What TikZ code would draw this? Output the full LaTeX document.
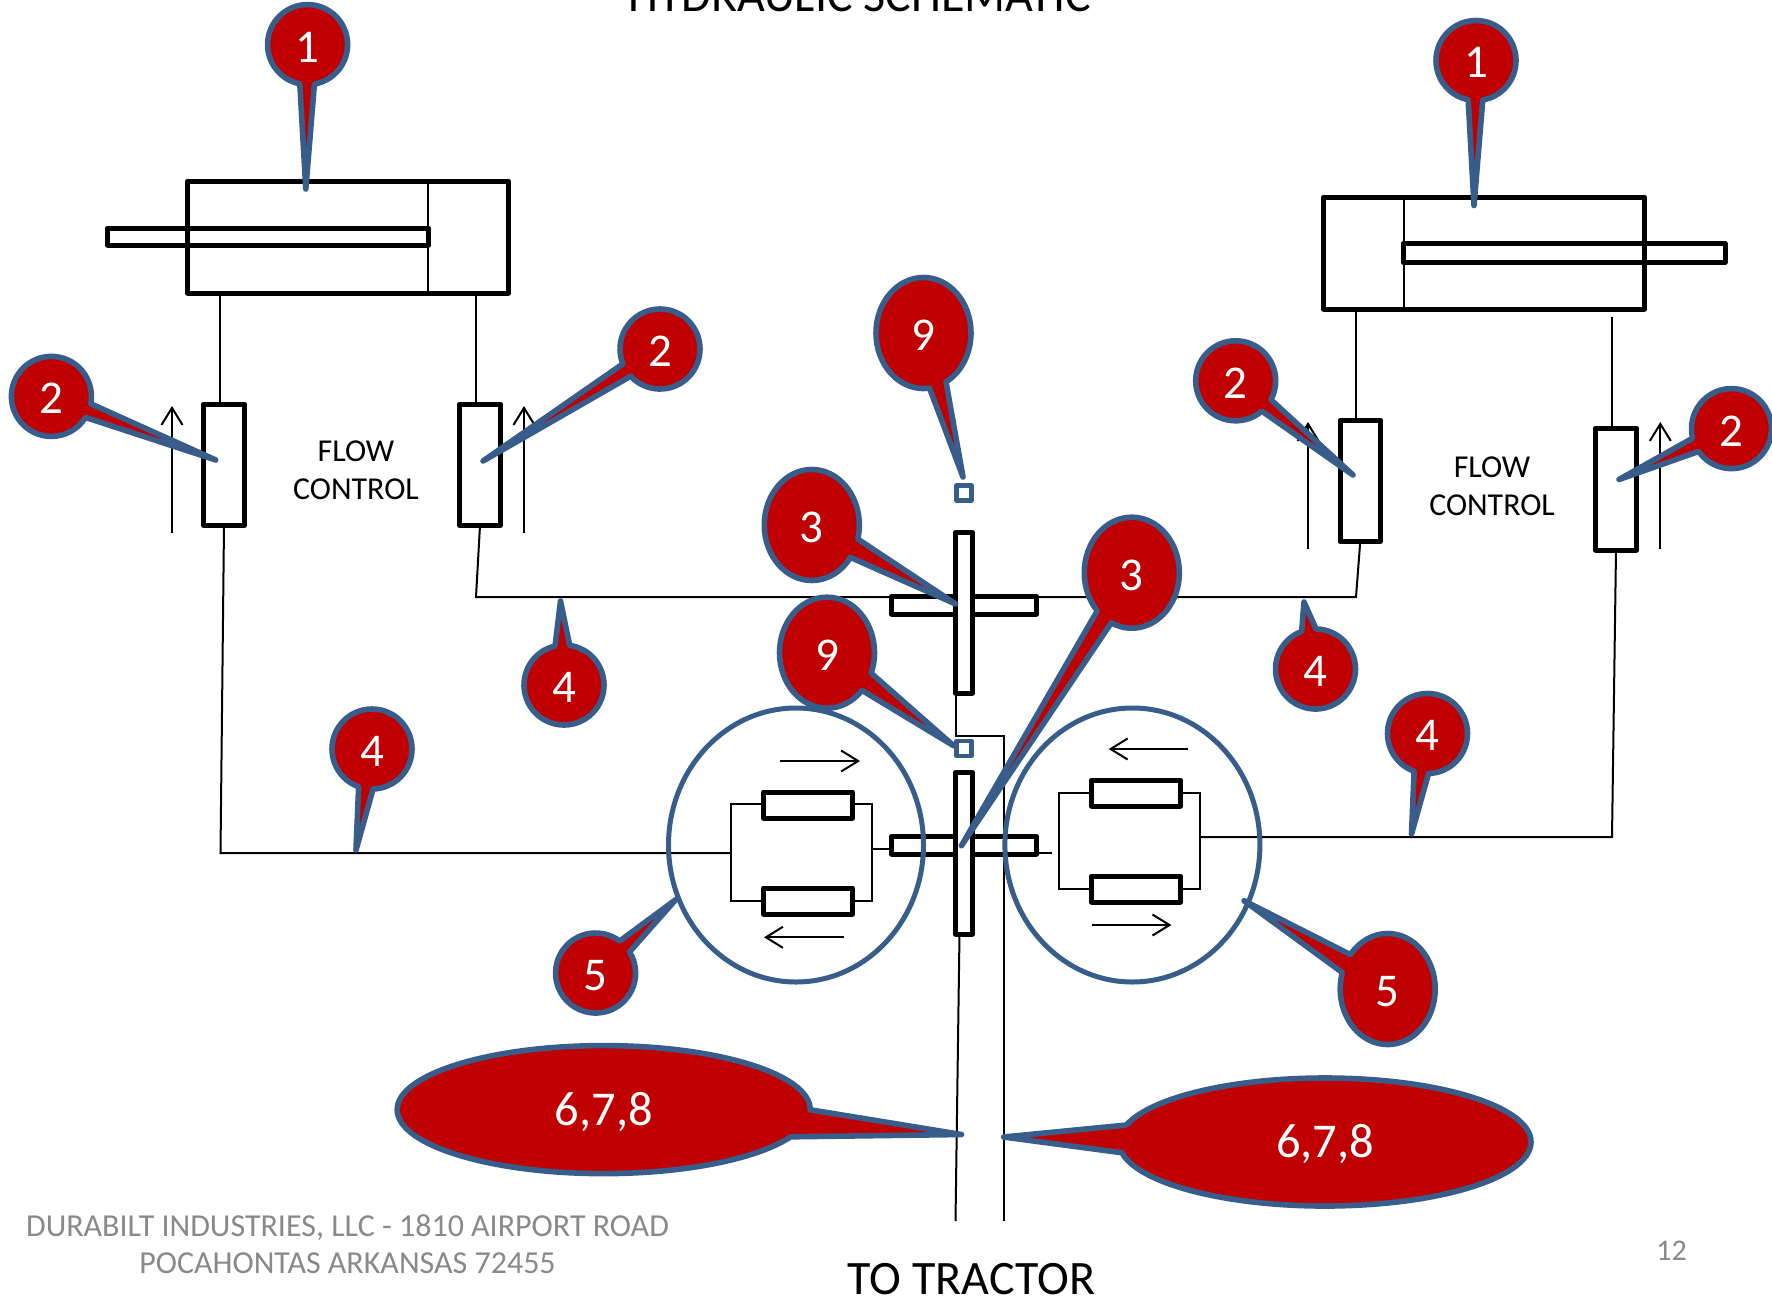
\documentclass[tikz,border=0pt]{standalone}
\usepackage{fontspec}
\setmainfont{Carlito}
\usetikzlibrary{shapes.callouts,shapes.geometric,arrows.meta}
\definecolor{calred}{RGB}{192,0,0}
\definecolor{calblue}{RGB}{56,93,138}
\definecolor{footgray}{RGB}{137,137,137}
\tikzset{
  heavybox/.style={draw=black,line width=5pt,line join=round,inner sep=0pt,outer sep=0pt,rectangle},
  openbox/.style={heavybox},
  solidbox/.style={heavybox,fill=white},
  portbox/.style={draw=calblue,line width=4.6pt,line join=round,inner sep=0pt,outer sep=0pt,rectangle,fill=white},
  pipe/.style={draw=black,line width=2pt},
  flow/.style={draw=black,line width=2pt,-{Straight Barb[length=17pt,width=21pt,line width=2pt]}},
  ring/.style={draw=calblue,line width=5pt,shape=ellipse,inner sep=0pt,outer sep=0pt},
  balloon/.style={ellipse callout,draw=calblue,fill=calred,line width=5.6pt,line join=round,text=white,
     inner sep=0pt,outer sep=0pt,font=\fontsize{47}{50}\selectfont,callout pointer arc=21},
  small/.style={balloon,minimum width=80pt,minimum height=80pt},
  tall/.style={balloon,minimum width=95pt,minimum height=111pt},
  wide/.style={balloon,minimum width=413pt,minimum height=128pt,callout pointer arc=25,font=\fontsize{48.5}{50}\selectfont},
  flowtxt/.style={align=center,font=\fontsize{31.9}{38}\selectfont,inner sep=0pt},
  foot/.style={align=center,text=footgray,font=\fontsize{32}{37}\selectfont,inner sep=0pt},
  bigtxt/.style={anchor=base,inner sep=0pt,font=\fontsize{48}{52}\selectfont},
}
\newcommand\bx[6]{%
  \pgfmathsetmacro\cxx{(#3+#5)/2}\pgfmathsetmacro\cyy{(#4+#6)/2}%
  \pgfmathsetmacro\wdd{abs(#5-#3)}\pgfmathsetmacro\htt{abs(#6-#4)}%
  \node[#1,minimum width=\wdd pt,minimum height=\htt pt] (#2) at (\cxx,\cyy) {};}
\newcommand\dropped[1]{\raisebox{-2.3pt}[\height][\depth]{#1}}
\begin{document}
\begin{tikzpicture}[x=1pt,y=-1pt]
\useasboundingbox (0,0) rectangle (1772,1298);
% titles and free text
\node[bigtxt] (title) at (859.5,11.3) {HYDRAULIC SCHEMATIC};
\node[bigtxt] (tractor) at (971.5,1294.5) {TO TRACTOR};
\node[flowtxt] (flowL) at (356,470) {FLOW\\CONTROL};
\node[flowtxt] (flowR) at (1492,486) {FLOW\\CONTROL};
\node[foot] (footer) at (347.5,1244.5) {DURABILT INDUSTRIES, LLC - 1810 AIRPORT ROAD\\POCAHONTAS ARKANSAS 72455};
\node[foot,font=\fontsize{30}{34}\selectfont] (page) at (1671.5,1251) {12};
% cylinders
\bx{openbox}{cylL}{187.5}{181}{508.5}{293}
\bx{openbox}{rodL}{107.5}{228}{428.5}{245}
\bx{openbox}{cylR}{1323.5}{197}{1644.5}{309}
\bx{openbox}{rodR}{1403}{243.5}{1725}{262}
\coordinate (pistonLt) at (428,181); \coordinate (pistonLb) at (428,293);
\coordinate (pistonRt) at (1404,197); \coordinate (pistonRb) at (1404,309);
\draw[pipe] (pistonLt) -- (pistonLb);
\draw[pipe] (pistonRt) -- (pistonRb);
% flow-control valves
\bx{solidbox}{vL1}{203.5}{404}{244.5}{525.5}
\bx{solidbox}{vL2}{459.5}{404}{500.5}{525.5}
\bx{solidbox}{vR1}{1340}{420}{1380.5}{541.5}
\bx{solidbox}{vR2}{1595.5}{428}{1636.5}{550}
% cylinder pipes
\coordinate (pL1) at (220,293); \coordinate (pL2) at (475.7,293);
\coordinate (pR1) at (1356,309); \coordinate (pR2) at (1612,317);
\draw[pipe] (pL1) -- (pL1 |- vL1.north);
\draw[pipe] (pL2) -- (pL2 |- vL2.north);
\draw[pipe] (pR1) -- (pR1 |- vR1.north);
\draw[pipe] (pR2) -- (pR2 |- vR2.north);
% flow arrows by the valves
\coordinate (a1s) at (172,533); \coordinate (a1e) at (172,406);
\coordinate (a2s) at (524,533); \coordinate (a2e) at (524,406);
\coordinate (a3s) at (1308,549); \coordinate (a3e) at (1308,422);
\coordinate (a4s) at (1660.3,549); \coordinate (a4e) at (1660.3,422);
\draw[flow] (a1s) -- (a1e);
\draw[flow] (a2s) -- (a2e);
\draw[flow] (a3s) -- (a3e);
\draw[flow] (a4s) -- (a4e);
% long pipes
\coordinate (jTopL) at (476,597); \coordinate (jTopR) at (1356,597);
\coordinate (jLowL) at (220.5,853); \coordinate (jLowLe) at (731,853);
\coordinate (jLowR) at (1612,837); \coordinate (jLowRe) at (1200,837);
\draw[pipe] (vL2.south) -- (jTopL) -- (jTopR) -- (vR1.south);
\draw[pipe] (vL1.south) -- (jLowL) -- (jLowLe);
\draw[pipe] (vR2.south) -- (jLowR) -- (jLowRe);
% motor groups
\coordinate (gLtl) at (731,804.3); \coordinate (gLbl) at (731,901);
\coordinate (gLtr) at (872,804.3); \coordinate (gLbr) at (872,901);
\draw[pipe] (gLtl) rectangle (gLbr);
\coordinate (gRtl) at (1059,792.7); \coordinate (gRbr) at (1200,888.7);
\draw[pipe] (gRtl) rectangle (gRbr);
\bx{solidbox}{mL1}{763.5}{792}{852.5}{818}
\bx{solidbox}{mL2}{763.5}{888}{852.5}{914}
\bx{solidbox}{mR1}{1091.5}{780}{1180.5}{806}
\bx{solidbox}{mR2}{1091.5}{876}{1180.5}{902}
% tractor lines
\coordinate (tL) at (955.7,693); \coordinate (tLb) at (955.7,735.7);
\coordinate (tRc) at (1003.8,735.7); \coordinate (tRe) at (1003.8,1221);
\coordinate (tBs) at (959.5,934); \coordinate (tBe) at (955.5,1221);
\draw[pipe] (tL) -- (tLb) -- (tRc) -- (tRe);
\draw[pipe] (tBs) -- (tBe);
% central valves
\coordinate (bL) at (872,849); \coordinate (bLe) at (891,849);
\coordinate (bR) at (1037,852.7); \coordinate (bRe) at (1052,852.7);
\draw[pipe] (bL) -- (bLe);
\draw[pipe] (bR) -- (bRe);
\bx{solidbox}{hBarU}{891.5}{596.5}{1036.5}{614}
\bx{solidbox}{vBarU}{955.5}{532.5}{972.5}{693}
\bx{solidbox}{hBarL}{891.5}{836.5}{1036.5}{854}
\bx{solidbox}{vBarL}{955.5}{772.5}{972.5}{934}
\bx{portbox}{portU}{956.5}{485.5}{971.5}{500.5}
\bx{portbox}{portL}{956.5}{741}{971.5}{756}
% group arrows
\coordinate (a5s) at (780,761); \coordinate (a5e) at (860,761);
\coordinate (a6s) at (843.8,937.3); \coordinate (a6e) at (764,937.3);
\coordinate (a7s) at (1187.7,749); \coordinate (a7e) at (1108.7,749);
\coordinate (a8s) at (1092,925); \coordinate (a8e) at (1171.4,925);
\draw[flow] (a5s) -- (a5e);
\draw[flow] (a6s) -- (a6e);
\draw[flow] (a7s) -- (a7e);
\draw[flow] (a8s) -- (a8e);
% rings
\node[ring,minimum width=255pt,minimum height=274pt] (ringL) at (796,845) {};
\node[ring,minimum width=255pt,minimum height=274pt] (ringR) at (1132.4,845) {};
% balloons
\node[small,callout absolute pointer={(305.8,189)}] (c1L) at (307.6,44.6) {\dropped{1}};
\node[small,callout absolute pointer={(1474,205.5)}] (c1R) at (1476,60.5) {\dropped{1}};
\node[small,callout absolute pointer={(215.8,460)}] (c2a) at (51.4,396.4) {\dropped{2}};
\node[small,callout absolute pointer={(483,461)}] (c2b) at (660,349) {\dropped{2}};
\node[small,callout absolute pointer={(1353,475)}] (c2c) at (1235.7,380.8) {\dropped{2}};
\node[small,callout absolute pointer={(1619,479.5)}] (c2d) at (1731.5,428.6) {\dropped{2}};
\node[tall,callout absolute pointer={(955.7,604)}] (c3a) at (811.8,525) {\dropped{3}};
\node[tall,callout absolute pointer={(961.4,845.7)}] (c3b) at (1131.8,572.7) {\dropped{3}};
\node[tall,callout absolute pointer={(963,477)}] (c9a) at (923.5,333) {\dropped{9}};
\node[tall,callout absolute pointer={(953.6,745.7)}] (c9b) at (827,652.7) {\dropped{9}};
\node[small,callout absolute pointer={(560.5,601)}] (c4a) at (564,685) {\dropped{4}};
\node[small,callout absolute pointer={(356,850)}] (c4b) at (372,749) {\dropped{4}};
\node[small,callout absolute pointer={(1304,602)}] (c4c) at (1315.5,669) {\dropped{4}};
\node[small,callout absolute pointer={(1411.5,834)}] (c4d) at (1427.5,733.5) {\dropped{4}};
\node[small,callout absolute pointer={(675.8,899.6)}] (c5a) at (595.6,973) {\dropped{5}};
\node[tall,callout absolute pointer={(1244,900.7)}] (c5b) at (1387.7,989) {\dropped{5}};
\node[wide,callout absolute pointer={(961.5,1134.5)}] (c6a) at (603.7,1109.6) {\dropped{6,7,8}};
\node[wide,minimum width=412pt,callout absolute pointer={(1003.6,1137)}] (c6b) at (1325,1142) {\dropped{6,7,8}};
\end{tikzpicture}
\end{document}
